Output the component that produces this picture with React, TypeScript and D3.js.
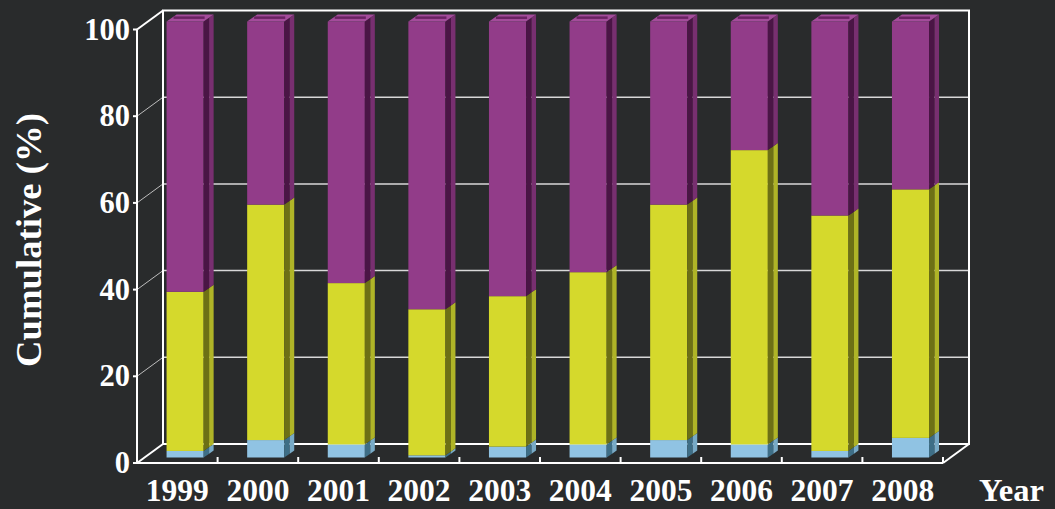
import React from 'react';
import * as d3 from 'd3';

// Share of cases per year, stacked bottom to top (percent).
const years = ['1999', '2000', '2001', '2002', '2003', '2004', '2005', '2006', '2007', '2008'];
const lowShare = [1.5, 4, 3, 0.5, 2.5, 3, 4, 3, 1.5, 4.5];
const midShare = [36.5, 54, 37, 33.5, 34.5, 39.5, 54, 67.5, 54, 57];
const highShare = [62, 42, 60, 66, 63, 57.5, 42, 29.5, 44.5, 38.5];
const yTicks = [0, 20, 40, 60, 80, 100];
const seriesKeys = ['low', 'mid', 'high'];

const W = 1055;
const H = 509;

// oblique 3D frame
const FRONT_LEFT = 137;
const FRONT_RIGHT = 943;
const FRONT_BOTTOM = 463;
const FRONT_TOP = 29.5;
const DEPTH_DX = 26;
const DEPTH_DY = -19;
const BAR_DEPTH_POS = 0.3; // where the bar front face sits inside the floor depth
const BAR_DX = 10;
const BAR_DY = -7;

const palette: Record<string, { front: string; sideDark: string; sideLight: string; top: string; topInner: string }> = {
  low: { front: '#90c3e3', sideDark: '#3e6e86', sideLight: '#78aac6', top: '#a6d2ec', topInner: '#6f9fb9' },
  mid: { front: '#d5d92c', sideDark: '#6d7015', sideLight: '#afb427', top: '#e2e65a', topInner: '#9a9e22' },
  high: { front: '#923c89', sideDark: '#4a1545', sideLight: '#782f70', top: '#a44c9b', topInner: '#6a2363' },
};

const BG = '#292b2c';
const FONT = '"Liberation Serif", "Times New Roman", serif';

export default function App() {
  const rows = years.map((yr, i) => ({ year: yr, low: lowShare[i], mid: midShare[i], high: highShare[i] }));
  const stacked = d3.stack<any>().keys(seriesKeys)(rows);

  const x = d3.scaleBand<string>().domain(years).range([FRONT_LEFT, FRONT_RIGHT]).paddingInner(0.54).paddingOuter(0.27);
  const step = x.step();
  const y = d3.scaleLinear().domain([0, 100]).range([FRONT_BOTTOM, FRONT_TOP]);
  const barOffX = DEPTH_DX * BAR_DEPTH_POS;
  const yBar = d3.scaleLinear().domain([0, 100]).range([457.5, 21.5]);
  const bw = x.bandwidth();

  const backLeft = FRONT_LEFT + DEPTH_DX;
  const backRight = FRONT_RIGHT + DEPTH_DX;
  const yBack = (v: number) => y(v) + DEPTH_DY;

  const poly = (pts: [number, number][]) => pts.map((p) => p.join(',')).join(' ');

  // boundaries between year categories on the front axis
  const boundaries = years.map((_, i) => FRONT_LEFT + step * (i + 1));

  return (
    <svg width={W} height={H} style={{ position: 'absolute', left: 0, top: 0, display: 'block' }}>
      <rect x={0} y={0} width={W} height={H} fill={BG} />

      {/* back wall grid */}
      {yTicks.filter((t) => t > 0 && t < 100).map((t) => (
        <line key={'g' + t} x1={backLeft} x2={backRight} y1={yBack(t)} y2={yBack(t)} stroke="#d8d8d8" strokeWidth={1.5} />
      ))}
      {/* side wall grid */}
      {yTicks.filter((t) => t > 0 && t < 100).map((t) => (
        <line key={'s' + t} x1={FRONT_LEFT} x2={backLeft} y1={y(t)} y2={yBack(t)} stroke="#bdbdbd" strokeWidth={1} />
      ))}
      {/* back wall frame */}
      <g stroke="#ffffff" strokeWidth={2} fill="none">
        <polyline points={poly([[backLeft, yBack(0)], [backLeft, yBack(100)], [backRight, yBack(100)], [backRight, yBack(0)], [backLeft, yBack(0)]])} />
        <line x1={FRONT_LEFT} y1={y(100)} x2={backLeft} y2={yBack(100)} />
        <line x1={FRONT_LEFT} y1={y(0)} x2={backLeft} y2={yBack(0)} />
        <line x1={FRONT_RIGHT} y1={y(0)} x2={backRight} y2={yBack(0)} />
      </g>

      {/* bars */}
      {stacked.map((layer) => {
        const c = palette[layer.key];
        const isTop = layer.key === 'high';
        return (
          <g key={layer.key}>
            {layer.map((d: any, i: number) => {
              const x0 = (x(years[i]) as number) + barOffX;
              const x1 = x0 + bw;
              const yb = yBar(d[0]);
              const yt = yBar(d[1]);
              const half = BAR_DX * 0.55;
              const halfY = BAR_DY * 0.55;
              return (
                <g key={i}>
                  <rect x={x0} y={yt} width={bw} height={Math.max(0, yb - yt)} fill={c.front} />
                  <polygon points={poly([[x1, yb], [x1 + half, yb + halfY], [x1 + half, yt + halfY], [x1, yt]])} fill={c.sideDark} />
                  <polygon points={poly([[x1 + half, yb + halfY], [x1 + BAR_DX, yb + BAR_DY], [x1 + BAR_DX, yt + BAR_DY], [x1 + half, yt + halfY]])} fill={c.sideLight} />
                  {isTop && (
                    <g>
                      <polygon points={poly([[x0, yt], [x0 + BAR_DX, yt + BAR_DY], [x1 + BAR_DX, yt + BAR_DY], [x1, yt]])} fill={c.top} />
                      <line x1={x0 + BAR_DX * 0.7} y1={yt + BAR_DY * 0.55} x2={x1 + BAR_DX * 0.1} y2={yt + BAR_DY * 0.55} stroke={c.topInner} strokeWidth={2.5} />
                    </g>
                  )}
                </g>
              );
            })}
          </g>
        );
      })}

      {/* front axes */}
      <g stroke="#ffffff" strokeWidth={2} fill="none">
        <line x1={FRONT_LEFT} y1={y(100)} x2={FRONT_LEFT} y2={y(0)} />
        <line x1={FRONT_LEFT - 1} y1={y(0)} x2={FRONT_RIGHT} y2={y(0)} />
        {yTicks.map((t) => (
          <line key={'t' + t} x1={FRONT_LEFT - 4} x2={FRONT_LEFT} y1={y(t)} y2={y(t)} />
        ))}
        {boundaries.map((bx, i) => (
          <line key={'b' + i} x1={bx} x2={bx} y1={y(0)} y2={y(0) - 6} />
        ))}
      </g>

      {/* tick labels */}
      <g fill="#ffffff" fontFamily={FONT} fontWeight="bold">
        {yTicks.map((t) => (
          <text key={'l' + t} x={130} y={y(t) + 10} textAnchor="end" fontSize={30.5}>{t}</text>
        ))}
        {years.map((yr) => (
          <text key={yr} x={(x(yr) as number) + bw / 2} y={501} textAnchor="middle" fontSize={31.5}>{yr}</text>
        ))}
        <text x={979} y={501} fontSize={32.5}>Year</text>
        <text transform={`translate(41,240) rotate(-90)`} textAnchor="middle" fontSize={35} textLength={254} lengthAdjust="spacingAndGlyphs">Cumulative (%)</text>
      </g>
    </svg>
  );
}
